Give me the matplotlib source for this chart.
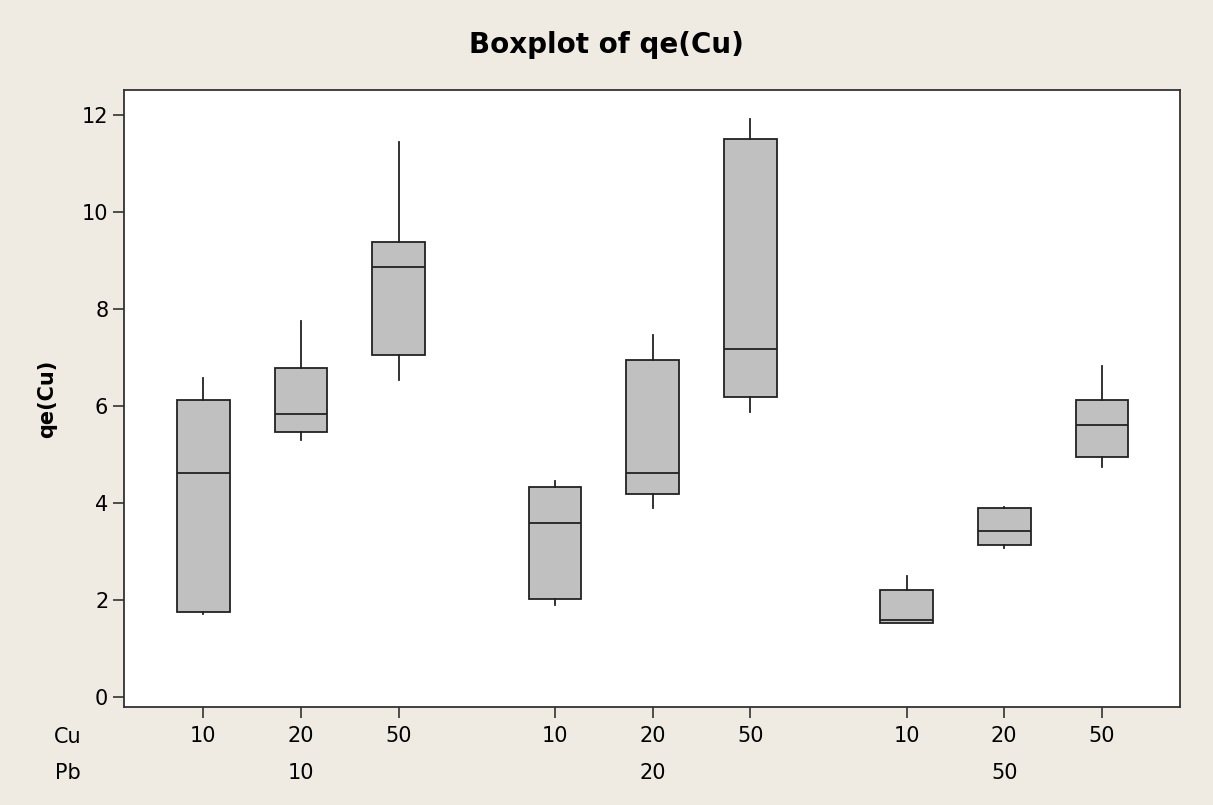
import matplotlib
matplotlib.use("Agg")
import matplotlib.pyplot as plt
from matplotlib.transforms import blended_transform_factory

# box statistics (Cu within Pb)
cu_labels = ["10", "20", "50", "10", "20", "50", "10", "20", "50"]
pb_labels = ["10", "20", "50"]
whislo = [1.71, 5.29, 6.53, 1.89, 3.89, 5.87, 1.51, 3.06, 4.74]
q1 = [1.75, 5.45, 7.05, 2.01, 4.18, 6.18, 1.51, 3.12, 4.93]
med = [4.60, 5.82, 8.85, 3.58, 4.60, 7.17, 1.58, 3.41, 5.59]
q3 = [6.11, 6.78, 9.37, 4.33, 6.93, 11.50, 2.19, 3.88, 6.11]
whishi = [6.57, 7.75, 11.43, 4.44, 7.45, 11.91, 2.48, 3.91, 6.82]

bg = "#EFEBE2"
positions = [g * 3.6 + i for g in range(3) for i in range(3)]

fig = plt.figure(figsize=(12.13, 8.05), dpi=100, facecolor=bg)
ax = fig.add_axes([0.1025, 0.1221, 0.8703, 0.7657])
ax.set_facecolor("white")

stats = []
for i in range(len(med)):
    stats.append(dict(whislo=whislo[i], q1=q1[i], med=med[i], q3=q3[i],
                      whishi=whishi[i], fliers=[]))

ax.bxp(stats, positions=positions, widths=0.54, patch_artist=True,
       showcaps=False, showfliers=False,
       boxprops=dict(facecolor="#C0C0C0", edgecolor="#222222", linewidth=1.3),
       medianprops=dict(color="#222222", linewidth=1.3),
       whiskerprops=dict(color="#222222", linewidth=1.3))

ax.set_xlim(-0.81, 10.0)
ax.set_ylim(-0.21, 12.5)
ax.set_yticks([0, 2, 4, 6, 8, 10, 12])
ax.set_xticks(positions)
ax.set_xticklabels(cu_labels)

for s in ax.spines.values():
    s.set_color("#333333")
    s.set_linewidth(1.3)
ax.tick_params(axis="both", labelsize=15, length=8, width=1.2, color="#333333")
ax.tick_params(axis="x", pad=6)

# second row of labels: Pb levels under the group centres
trans = blended_transform_factory(ax.transData, fig.transFigure)
for g, lab in enumerate(pb_labels):
    ax.text(positions[g * 3 + 1], 1 - 773 / 805, lab, transform=trans,
            ha="center", va="center", fontsize=15, clip_on=False)
fig.text(68 / 1213, 1 - 737 / 805, "Cu", ha="center", va="center", fontsize=15)
fig.text(68 / 1213, 1 - 773 / 805, "Pb", ha="center", va="center", fontsize=15)

ax.set_ylabel("qe(Cu)", fontsize=15, fontweight="bold", labelpad=18)
fig.text(0.5, 1 - 45 / 805, "Boxplot of qe(Cu)", ha="center", va="center",
         fontsize=20, fontweight="bold")

fig.savefig("out.png", dpi=100, facecolor=bg)
